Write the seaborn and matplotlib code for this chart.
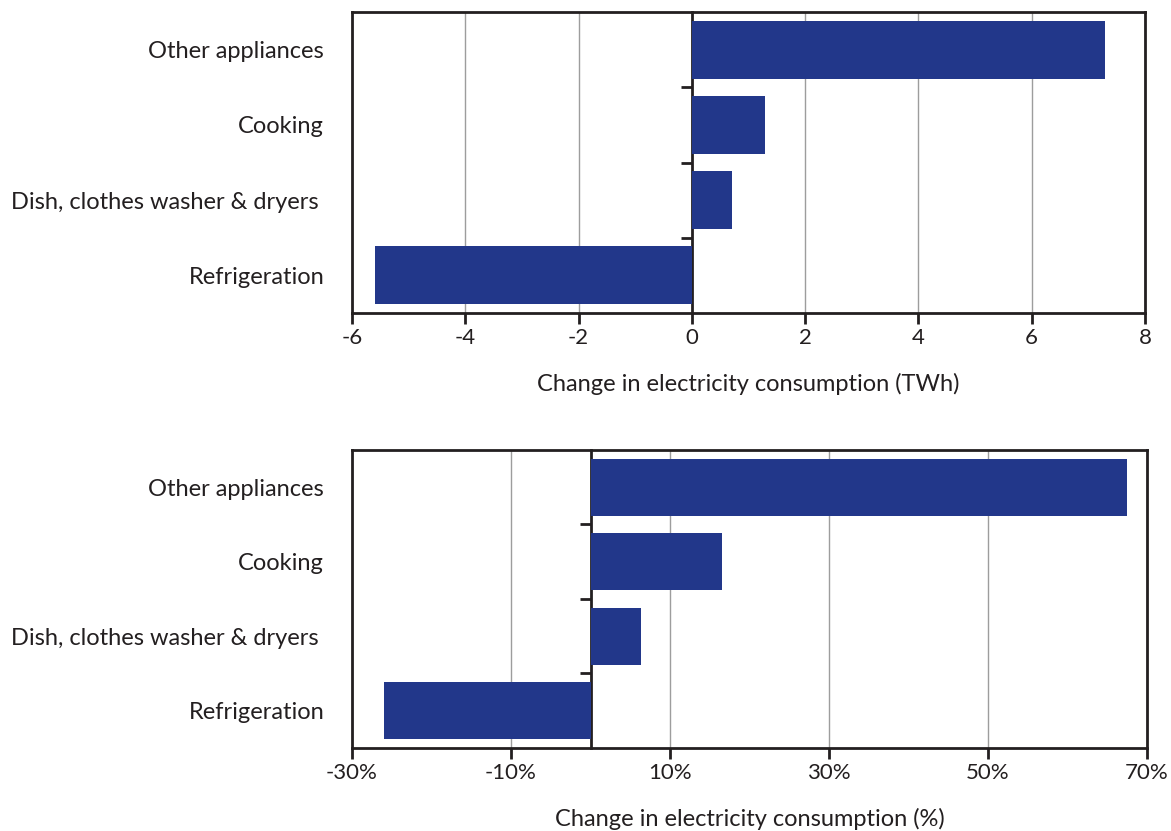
import seaborn as sns
import matplotlib.pyplot as plt
import numpy as np

# Données
categories = ['Other appliances', 'Cooking', 'Dish, clothes washer & dryers ', 'Refrigeration']
change_twh = [7.3, 1.3, 0.7, -5.6]
change_pct = [67.5, 16.5, 6.3, -26.0]

twh_ticks = [-6, -4, -2, 0, 2, 4, 6, 8]
pct_ticks = [-30, -10, 10, 30, 50, 70]
pct_labels = ['-30%', '-10%', '10%', '30%', '50%', '70%']

bar_color = '#22378a'
frame_color = '#231f20'

sns.set_style('white')
plt.rcParams['font.family'] = ['Lato', 'DejaVu Sans']

fig = plt.figure(figsize=(11.71, 8.31), dpi=100)
ax1 = fig.add_axes([0.3006, 0.6233, 0.6772, 0.3623])
ax2 = fig.add_axes([0.3006, 0.0999, 0.6790, 0.3586])


def draw_panel(ax, values, xlim, ticks, ticklabels, xlabel):
    sns.barplot(x=values, y=categories, ax=ax, color=bar_color, width=0.77,
                saturation=1, orient='h', linewidth=0)
    ax.set_xlim(*xlim)
    ax.set_ylim(3.5, -0.5)
    ax.set_xticks(ticks)
    ax.set_xticklabels(ticklabels)
    # grille verticale (sauf à zéro)
    for t in ticks:
        if t != 0:
            ax.axvline(t, color='#9d9d9d', lw=1, zorder=0)
    for s in ax.spines.values():
        s.set_color(frame_color)
        s.set_linewidth(2)
    ax.tick_params(axis='x', direction='out', length=8, width=2, color=frame_color,
                   labelsize=16, pad=3, bottom=True, labelcolor=frame_color)
    ax.tick_params(axis='y', length=0, labelsize=17, pad=20, labelcolor=frame_color)
    for lab in ax.get_yticklabels():
        lab.set_va('center_baseline')
    ax.set_ylabel('')
    ax.set_xlabel(xlabel, fontsize=17, labelpad=18, color=frame_color)
    # axe vertical à zéro avec graduations entre catégories
    loc = (0 - xlim[0]) / (xlim[1] - xlim[0])
    sec = ax.secondary_yaxis(loc)
    sec.set_yticks([0.5, 1.5, 2.5])
    sec.set_yticklabels([])
    sec.spines['left'].set_color(frame_color)
    sec.spines['left'].set_linewidth(2)
    sec.tick_params(axis='y', direction='out', length=8, width=2, color=frame_color)


draw_panel(ax1, change_twh, (-6, 8), twh_ticks, [str(t) for t in twh_ticks],
           'Change in electricity consumption (TWh)')
draw_panel(ax2, change_pct, (-30, 70), pct_ticks, pct_labels,
           'Change in electricity consumption (%)')

plt.savefig('out.png', dpi=100)
